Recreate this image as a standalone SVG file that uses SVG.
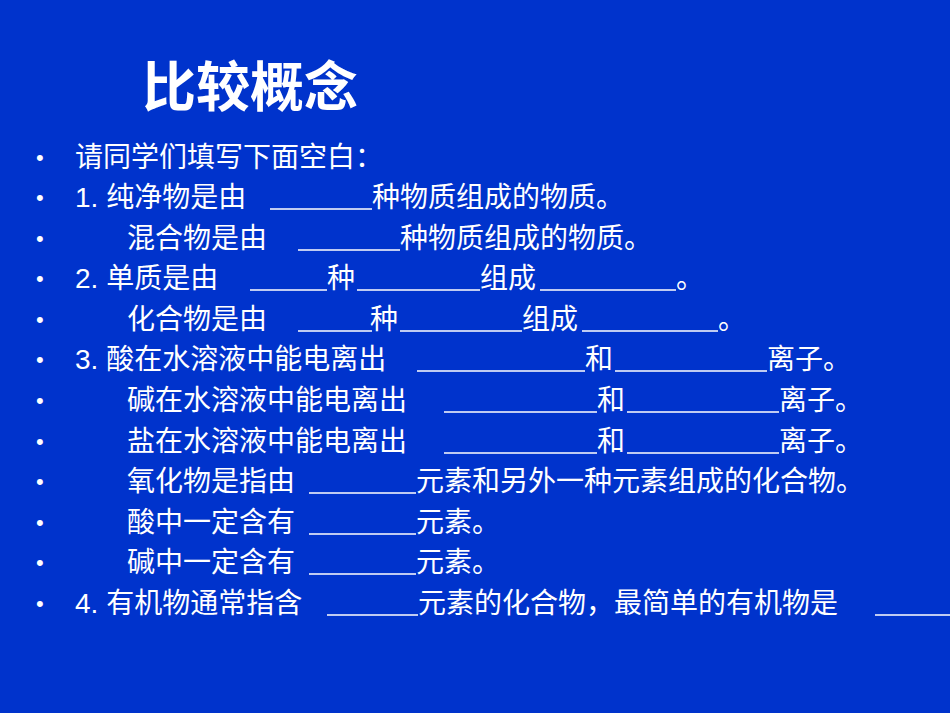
<svg xmlns="http://www.w3.org/2000/svg" width="950" height="713" viewBox="0 0 950 713">
<style>
text{fill:#fff;font-family:"Liberation Sans","Noto Sans CJK SC",sans-serif;font-size:28px}
.t{font-size:54px;font-weight:bold}
.b{font-size:22px}
line{stroke:#fff;stroke-width:1.5}
</style>
<rect width="950" height="713" fill="#0033cc"/>
<text class="t" x="142" y="107">比较概念</text>
<g id="bullets">
<text class="b" x="36" y="165">•</text><text class="b" x="36" y="205">•</text><text class="b" x="36" y="246">•</text><text class="b" x="36" y="286">•</text><text class="b" x="36" y="327">•</text><text class="b" x="36" y="367">•</text><text class="b" x="36" y="408">•</text><text class="b" x="36" y="449">•</text><text class="b" x="36" y="489">•</text><text class="b" x="36" y="530">•</text><text class="b" x="36" y="570">•</text><text class="b" x="36" y="611">•</text>
</g>
<g id="lines">
<text x="75" y="167">请同学们填写下面空白：</text>
<text x="75" y="207">1.  纯净物是由</text><line x1="270" y1="209" x2="372" y2="209"/><text x="372" y="207">种物质组成的物质。</text>
<text x="127" y="248">混合物是由</text><line x1="298" y1="250" x2="400" y2="250"/><text x="400" y="248">种物质组成的物质。</text>
<text x="75" y="288">2.  单质是由</text><line x1="250" y1="290" x2="327" y2="290"/><text x="327" y="288">种</text><line x1="357" y1="290" x2="480" y2="290"/><text x="480" y="288">组成</text><line x1="540" y1="290" x2="676" y2="290"/><text x="676" y="288">。</text>
<text x="127" y="329">化合物是由</text><line x1="298" y1="331" x2="372" y2="331"/><text x="370" y="329">种</text><line x1="400" y1="331" x2="522" y2="331"/><text x="522" y="329">组成</text><line x1="582" y1="331" x2="718" y2="331"/><text x="718" y="329">。</text>
<text x="75" y="369">3.  酸在水溶液中能电离出</text><line x1="417" y1="371" x2="585" y2="371"/><text x="585" y="369">和</text><line x1="615" y1="371" x2="767" y2="371"/><text x="767" y="369">离子。</text>
<text x="127" y="410">碱在水溶液中能电离出</text><line x1="444" y1="412" x2="597" y2="412"/><text x="597" y="410">和</text><line x1="627" y1="412" x2="779" y2="412"/><text x="779" y="410">离子。</text>
<text x="127" y="451">盐在水溶液中能电离出</text><line x1="444" y1="453" x2="597" y2="453"/><text x="597" y="451">和</text><line x1="627" y1="453" x2="779" y2="453"/><text x="779" y="451">离子。</text>
<text x="127" y="491">氧化物是指由</text><line x1="309" y1="493" x2="416" y2="493"/><text x="416" y="491">元素和另外一种元素组成的化合物。</text>
<text x="127" y="532">酸中一定含有</text><line x1="309" y1="534" x2="416" y2="534"/><text x="416" y="532">元素。</text>
<text x="127" y="572">碱中一定含有</text><line x1="309" y1="574" x2="416" y2="574"/><text x="416" y="572">元素。</text>
<text x="75" y="613">4.  有机物通常指含</text><line x1="327" y1="615" x2="418" y2="615"/><text x="418" y="613">元素的化合物，最简单的有机物是</text><line x1="875" y1="615" x2="950" y2="615"/>
</g>
</svg>
